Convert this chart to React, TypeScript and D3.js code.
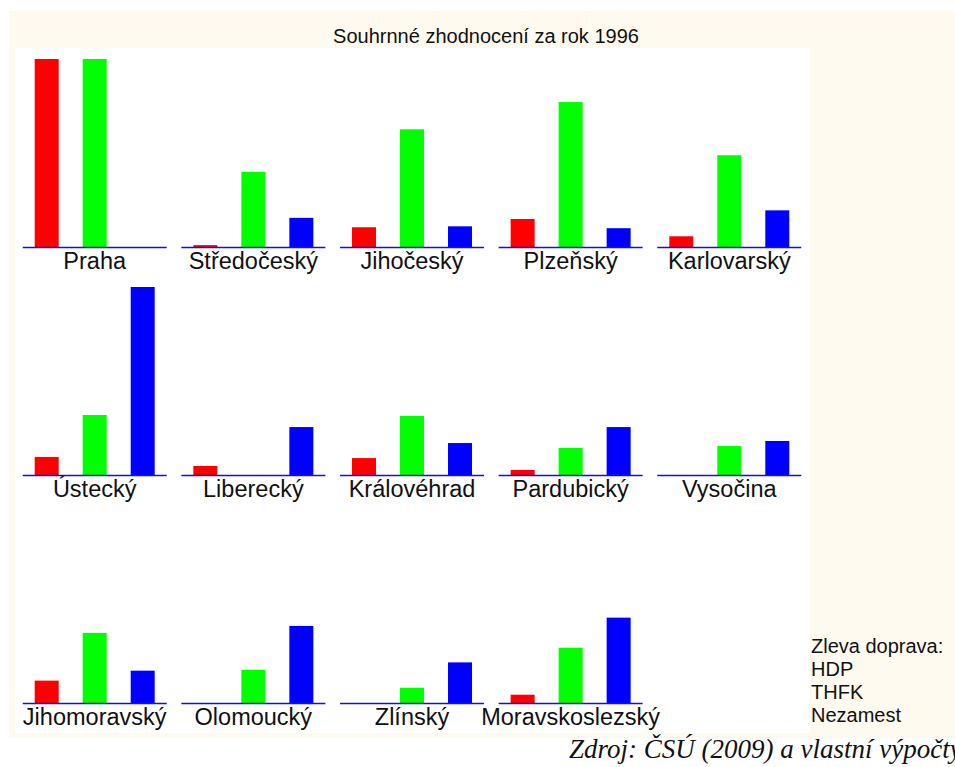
import React from 'react';
import * as d3 from 'd3';

// regions of the Czech Republic, read left to right, top to bottom
const regions = [
  'Praha', 'Středočeský', 'Jihočeský', 'Plzeňský', 'Karlovarský',
  'Ústecký', 'Liberecký', 'Královéhrad', 'Pardubický', 'Vysočina',
  'Jihomoravský', 'Olomoucký', 'Zlínský', 'Moravskoslezský',
];

// normalised values (0 = min, 1 = max of each indicator)
const hdp = [1, 0.01, 0.105, 0.149, 0.057, 0.096, 0.048, 0.09, 0.027, 0, 0.119, 0, 0, 0.044];
const thfk = [1, 0.4, 0.626, 0.771, 0.488, 0.319, 0, 0.314, 0.144, 0.154, 0.373, 0.177, 0.081, 0.294];
const nezamest = [0, 0.155, 0.11, 0.1, 0.195, 1, 0.255, 0.17, 0.255, 0.181, 0.172, 0.41, 0.216, 0.454];

const seriesNames = ['HDP', 'THFK', 'Nezamest'];
const seriesColors = ['#ff0000', '#00ff00', '#0000ff'];

const title = 'Souhrnné zhodnocení za rok 1996';
const legendTitle = 'Zleva doprava:';
const source = 'Zdroj: ČSÚ (2009) a vlastní výpočty';

const width = 955;
const height = 767;

export default function App() {
  const panelW = 144;
  const maxH = 188;

  const colX = d3.scaleLinear().domain([0, 4]).range([22.7, 657.3]);
  const rowY = d3.scaleLinear().domain([0, 2]).range([247, 703]);

  const xBand = d3.scaleBand<string>()
    .domain(seriesNames)
    .range([0, panelW])
    .paddingInner(0.5)
    .paddingOuter(0.25);
  const yScale = d3.scaleLinear().domain([0, 1]).range([0, maxH]);

  const series = [hdp, thfk, nezamest];

  return (
    <svg
      width={width}
      height={height}
      style={{ position: 'absolute', left: 0, top: 0, background: '#fff' }}
      fontFamily="'Liberation Sans', Arial, sans-serif"
    >
      <rect x={9} y={11} width={width - 9} height={727} fill="#fffaf0" />
      <rect x={15} y={48} width={795} height={685} fill="#ffffff" />

      <text x={486} y={42.5} fontSize={20} textAnchor="middle" fill="#111">
        {title}
      </text>

      {regions.map((name, i) => {
        const x0 = colX(i % 5);
        const base = rowY(Math.floor(i / 5));
        return (
          <g key={name} transform={`translate(${x0},${base})`}>
            {seriesNames.map((s, k) => {
              const h = yScale(series[k][i]);
              return h > 0 ? (
                <rect
                  key={s}
                  x={xBand(s)}
                  y={-h}
                  width={xBand.bandwidth()}
                  height={h}
                  fill={seriesColors[k]}
                />
              ) : null;
            })}
            <line x1={0} x2={panelW} y1={0.5} y2={0.5} stroke="#1010e0" strokeWidth={1.6} />
            <text
              x={panelW / 2}
              y={21.5}
              fontSize={23.5}
              textAnchor="middle"
              fill="#111"
            >
              {name}
            </text>
          </g>
        );
      })}

      <g transform="translate(811,653)" fontSize={20} fill="#111">
        <text x={0} y={0}>{legendTitle}</text>
        {seriesNames.map((s, k) => (
          <text key={s} x={0} y={(k + 1) * 23}>{s}</text>
        ))}
      </g>

      <text
        x={569}
        y={758}
        fontSize={27}
        fontStyle="italic"
        fontFamily="'Liberation Serif', 'Times New Roman', serif"
        fill="#111"
      >
        {source}
      </text>
    </svg>
  );
}
